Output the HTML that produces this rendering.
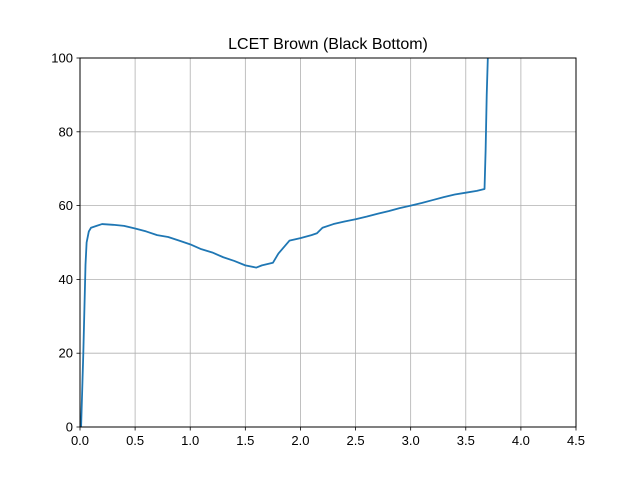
<!DOCTYPE html>
<html><head><meta charset="utf-8"><style>
body{margin:0;background:#fff;}
svg{display:block;font-family:"Liberation Sans","DejaVu Sans",sans-serif;}
</style></head><body>
<svg id="chart" width="640" height="480">
<rect width="640" height="480" fill="#fff"/>
<g id="grid"></g>
<g id="series"></g>
<rect x="80" y="58" width="496" height="369" fill="none" stroke="#000" stroke-width="1"/>
<g id="ticks"></g>
<text x="328" y="49" text-anchor="middle" font-size="16">LCET Brown (Black Bottom)</text>
</svg>
<script>
const xTicks=[0,0.5,1,1.5,2,2.5,3,3.5,4,4.5];
const xTickLabels=["0.0","0.5","1.0","1.5","2.0","2.5","3.0","3.5","4.0","4.5"];
const yTicks=[0,20,40,60,80,100];
const yTickLabels=["0","20","40","60","80","100"];
const xs=[0.01,0.03,0.05,0.06,0.08,0.1,0.15,0.2,0.3,0.4,0.5,0.6,0.7,0.8,0.9,1.0,1.1,1.2,1.3,1.4,1.5,1.6,1.65,1.75,1.8,1.9,2.0,2.1,2.15,2.2,2.3,2.4,2.5,2.6,2.7,2.8,2.9,3.0,3.1,3.2,3.3,3.4,3.5,3.6,3.67,3.68,3.69,3.7];
const ys=[0,20,44,50,53,54,54.5,55,54.8,54.5,53.8,53,52,51.5,50.5,49.5,48.2,47.3,46,45,43.8,43.2,43.8,44.5,47,50.5,51.2,52,52.5,54,55,55.7,56.3,57,57.8,58.5,59.3,60,60.7,61.5,62.3,63,63.5,64,64.5,75,90,100];
const X0=80,X1=576,Y0=427,Y1=58;
const sx=v=>X0+(v-0)/(4.5-0)*(X1-X0);
const sy=v=>Y0-(v-0)/(100-0)*(Y0-Y1);
const NS="http://www.w3.org/2000/svg";
const grid=document.getElementById('grid'),ticks=document.getElementById('ticks'),series=document.getElementById('series');
function mk(t,a,p){const e=document.createElementNS(NS,t);for(const k in a)e.setAttribute(k,a[k]);p.appendChild(e);return e;}
xTicks.forEach((v,i)=>{const x=sx(v);
 const g=mk('line',{x1:x,x2:x,y1:Y1,y2:Y0,stroke:'#b0b0b0','stroke-width':0.8},grid);
 
 
 const t=mk('line',{x1:x,x2:x,y1:Y0,y2:Y0+3.5,stroke:'#000','stroke-width':0.8},ticks);
 
 
 const l=mk('text',{x:x,y:Y0+18,'text-anchor':'middle','font-size':13},ticks);l.textContent=xTickLabels[i];
 
 
});
yTicks.forEach((v,i)=>{const y=sy(v);
 const g=mk('line',{x1:X0,x2:X1,y1:y,y2:y,stroke:'#b0b0b0','stroke-width':0.8},grid);
 
 
 const t=mk('line',{x1:X0-3.5,x2:X0,y1:y,y2:y,stroke:'#000','stroke-width':0.8},ticks);
 
 
 const l=mk('text',{x:X0-7,y:y+4.5,'text-anchor':'end','font-size':13},ticks);l.textContent=yTickLabels[i];
 
 
});
const d=xs.map((v,i)=>(i?'L':'M')+sx(v).toFixed(2)+','+sy(ys[i]).toFixed(2)).join(' ');
const p=mk('path',{d:d,fill:'none',stroke:'#1f77b4','stroke-width':1.8,'stroke-linejoin':'round'},series);


</script>
</body></html>
